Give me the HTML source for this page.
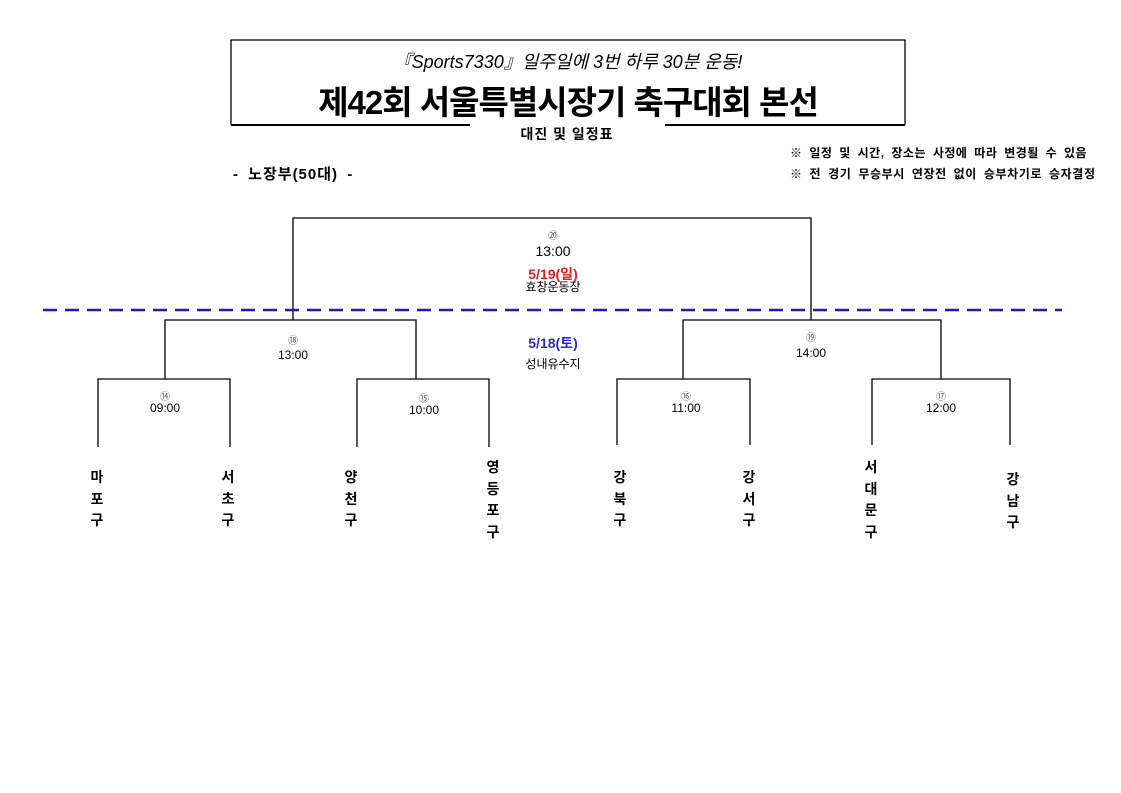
<!DOCTYPE html>
<html><head><meta charset="utf-8"><style>
body{margin:0;width:1121px;height:793px;background:#fff;position:relative;overflow:hidden;font-family:"Liberation Sans","Noto Sans CJK KR",sans-serif;color:#000}
.a{position:absolute;white-space:nowrap}
.c{transform:translateX(-50%);text-align:center}
.t{position:absolute;transform:translateX(-50%);font-size:14px;font-weight:bold;line-height:21.5px;text-align:center;width:20px}
.s{font-size:12px;line-height:13px}
.n{font-size:10px;line-height:11px;color:#555}
</style></head><body>
<svg class="a" style="left:0;top:0" width="1121" height="793">
<g fill="none" stroke="#000" stroke-width="1.3">
<path d="M231,125 V40 H905 V125"/>
<path d="M231,125 H470 M665,125 H905" stroke-width="2"/>
<path d="M293,320 V218 H811 V320"/>
<path d="M165,379 V320 H416 V379"/>
<path d="M683,379 V320 H941 V379"/>
<path d="M98,447 V379 H230 V447"/>
<path d="M357,447 V379 H489 V447"/>
<path d="M617,445 V379 H750 V445"/>
<path d="M872,445 V379 H1010 V445"/>
</g>
<line x1="43" y1="310" x2="1062" y2="310" stroke="#1a1acc" stroke-width="2.5" stroke-dasharray="14,8"/>
</svg>
<div class="a c" style="left:568px;top:48px;font-size:18px;font-style:italic">『Sports7330』일주일에 3번 하루 30분 운동!</div>
<div class="a c" style="left:568px;top:76px;font-size:33px;font-weight:bold;letter-spacing:-1px">제42회 서울특별시장기 축구대회 본선</div>
<div class="a c" style="left:567px;top:124px;font-size:14px;font-weight:bold;letter-spacing:1px">대진 및 일정표</div>
<div class="a" style="left:790px;top:144px;font-size:12px;font-weight:bold;letter-spacing:0.5px;word-spacing:3px">※ 일정 및 시간, 장소는 사정에 따라 변경될 수 있음</div>
<div class="a" style="left:790px;top:165px;font-size:12px;font-weight:bold;letter-spacing:0.6px;word-spacing:3px">※ 전 경기 무승부시 연장전 없이 승부차기로 승자결정</div>
<div class="a" style="left:233px;top:163px;font-size:15px;font-weight:bold;letter-spacing:1px;word-spacing:4px">- 노장부(50대) -</div>

<div class="a c n" style="left:553px;top:231px">⑳</div>
<div class="a c" style="left:553px;top:243px;font-size:14px">13:00</div>
<div class="a c" style="left:553px;top:264px;font-size:14px;color:#e02020;font-weight:bold">5/19(일)</div>
<div class="a c" style="left:553px;top:278px;font-size:12px">효창운동장</div>
<div class="a c" style="left:553px;top:333px;font-size:14px;color:#2a2ad0;font-weight:bold">5/18(토)</div>
<div class="a c" style="left:553px;top:355px;font-size:12px">성내유수지</div>

<div class="a c n" style="left:293px;top:336px">⑱</div>
<div class="a c s" style="left:293px;top:349px">13:00</div>
<div class="a c n" style="left:811px;top:333px">⑲</div>
<div class="a c s" style="left:811px;top:347px">14:00</div>

<div class="a c n" style="left:165px;top:392px">⑭</div>
<div class="a c s" style="left:165px;top:402px">09:00</div>
<div class="a c n" style="left:424px;top:394px">⑮</div>
<div class="a c s" style="left:424px;top:404px">10:00</div>
<div class="a c n" style="left:686px;top:392px">⑯</div>
<div class="a c s" style="left:686px;top:402px">11:00</div>
<div class="a c n" style="left:941px;top:392px">⑰</div>
<div class="a c s" style="left:941px;top:402px">12:00</div>

<div class="t" style="left:97px;top:467px">마<br>포<br>구</div>
<div class="t" style="left:228px;top:467px">서<br>초<br>구</div>
<div class="t" style="left:351px;top:467px">양<br>천<br>구</div>
<div class="t" style="left:493px;top:457px">영<br>등<br>포<br>구</div>
<div class="t" style="left:620px;top:467px">강<br>북<br>구</div>
<div class="t" style="left:749px;top:467px">강<br>서<br>구</div>
<div class="t" style="left:871px;top:457px">서<br>대<br>문<br>구</div>
<div class="t" style="left:1013px;top:469px">강<br>남<br>구</div>
</body></html>
